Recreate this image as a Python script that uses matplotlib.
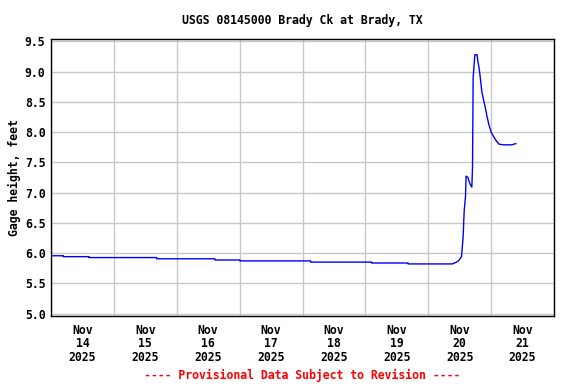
import numpy as np
import matplotlib
matplotlib.use("Agg")
import matplotlib.pyplot as plt
import matplotlib.dates as mdates
from datetime import datetime, timedelta

# time since Nov 14 2025 00:00 (days) and gage height (feet)
days = [0.0, 0.196, 0.196, 0.604, 0.604, 1.68, 1.68, 2.607, 2.607, 3.005, 3.005,
        4.129, 4.129, 5.099, 5.099, 5.68, 5.68, 6.38, 6.43, 6.48, 6.529, 6.555,
        6.571, 6.593, 6.602, 6.609, 6.63, 6.661, 6.693, 6.704, 6.714, 6.741,
        6.777, 6.789, 6.809, 6.831, 6.852, 6.884, 6.905, 6.936, 6.968, 7.0,
        7.043, 7.086, 7.127, 7.202, 7.329, 7.393]
height = [5.955, 5.955, 5.94, 5.94, 5.925, 5.925, 5.905, 5.905, 5.885, 5.885, 5.87,
          5.87, 5.85, 5.85, 5.835, 5.835, 5.82, 5.82, 5.84, 5.87, 5.94, 6.27,
          6.69, 6.94, 7.27, 7.27, 7.25, 7.15, 7.09, 7.42, 8.9, 9.28,
          9.28, 9.17, 9.06, 8.87, 8.67, 8.51, 8.42, 8.25, 8.11, 8.0,
          7.92, 7.85, 7.80, 7.79, 7.79, 7.81]

start = datetime(2025, 11, 14)
times = [start + timedelta(days=d) for d in days]

plt.rcParams['font.family'] = ['DejaVu Sans Mono']
plt.rcParams['font.weight'] = 'bold'
fs = 8.3

fig = plt.figure(figsize=(5.76, 3.84), dpi=100)
ax = fig.add_axes([51 / 576, 1 - 315.5 / 384, 503 / 576, 276.5 / 384])

ax.plot(times, height, color='#0000ff', lw=1.0)

ax.set_xlim(start, start + timedelta(days=8))
ax.set_ylim(4.967, 9.54)
ax.set_yticks(np.arange(5.0, 9.51, 0.5))
ax.yaxis.set_major_formatter(plt.FormatStrFormatter('%.1f'))

ax.xaxis.set_major_locator(mdates.DayLocator())
ax.xaxis.set_major_formatter(plt.NullFormatter())
ax.xaxis.set_minor_locator(mdates.HourLocator(byhour=[12]))
ax.xaxis.set_minor_formatter(mdates.DateFormatter('%b\n%d\n%Y'))

ax.grid(True, which='major', color='#c8c8c8', lw=1.0)
ax.tick_params(axis='both', which='both', length=0, labelsize=fs, pad=4)
ax.tick_params(axis='x', which='minor', pad=6)
for lab in ax.get_xticklabels(minor=True) + ax.get_yticklabels():
    lab.set_fontweight('bold')
    lab.set_linespacing(1.05)
for s in ax.spines.values():
    s.set_linewidth(1.0)

ax.set_ylabel('Gage height, feet', fontsize=fs, fontweight='bold', labelpad=3)
fig.text(302.5 / 576, 1 - 20.5 / 384, 'USGS 08145000 Brady Ck at Brady, TX',
         ha='center', va='center', fontsize=fs, fontweight='bold')
fig.text(302.5 / 576, 1 - 375 / 384, '---- Provisional Data Subject to Revision ----',
         ha='center', va='center', fontsize=fs, fontweight='bold', color='red')

fig.savefig('out.png', dpi=100)
